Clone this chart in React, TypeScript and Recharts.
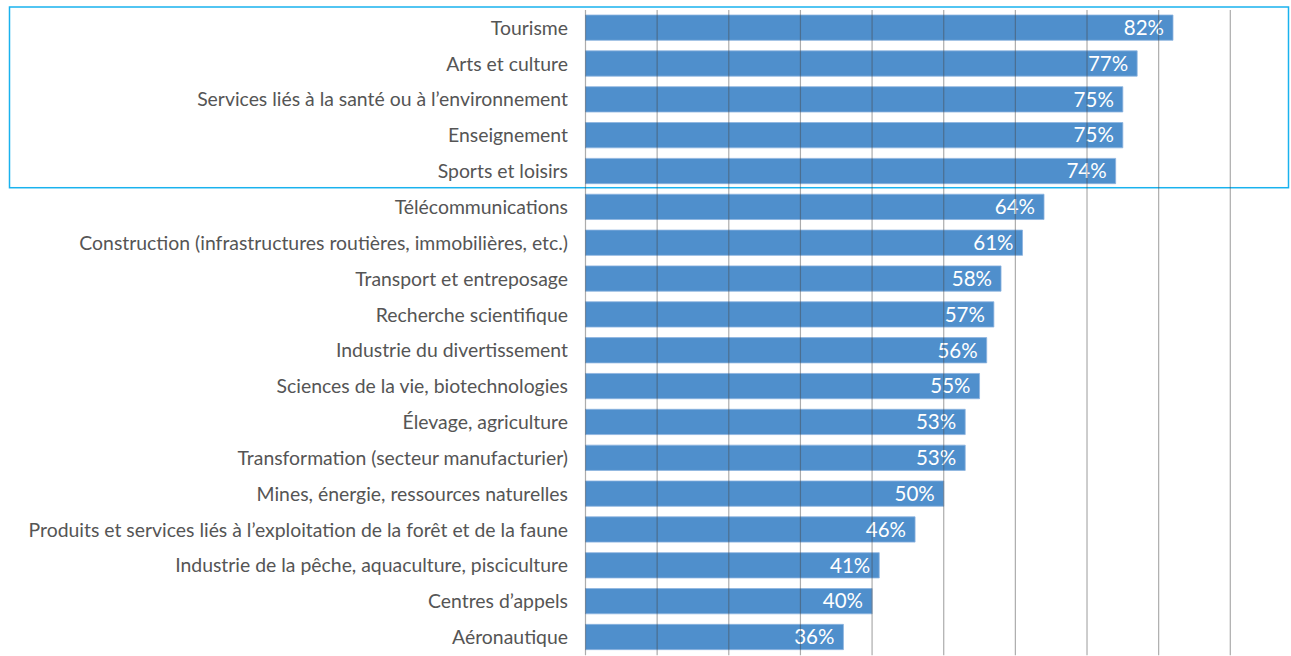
import React from 'react';
import { BarChart, Bar, XAxis, YAxis, CartesianGrid, LabelList, ReferenceArea } from 'recharts';

const categories = [
  'Tourisme',
  'Arts et culture',
  'Services liés à la santé ou à l’environnement',
  'Enseignement',
  'Sports et loisirs',
  'Télécommunications',
  'Construction (infrastructures routières, immobilières, etc.)',
  'Transport et entreposage',
  'Recherche scientifique',
  'Industrie du divertissement',
  'Sciences de la vie, biotechnologies',
  'Élevage, agriculture',
  'Transformation (secteur manufacturier)',
  'Mines, énergie, ressources naturelles',
  'Produits et services liés à l’exploitation de la forêt et de la faune',
  'Industrie de la pêche, aquaculture, pisciculture',
  'Centres d’appels',
  'Aéronautique',
];

const values = [82, 77, 75, 75, 74, 64, 61, 58, 57, 56, 55, 53, 53, 50, 46, 41, 40, 36];

const xTicks = [0, 10, 20, 30, 40, 50, 60, 70, 80, 90];

const highlightFrom = 'Tourisme';
const highlightTo = 'Sports et loisirs';

const data = categories.map((name, i) => ({ name, value: values[i] }));

const FONT = 'Lato, "Open Sans", sans-serif';
const MARGIN = { top: 10, right: 60.7, bottom: 0.8, left: 0 };
const AXIS_W = 585.5;

const HighlightBox = (props: any) => {
  const { y, height } = props;
  return (
    <rect
      x={9.5}
      y={y - 3}
      width={1279}
      height={height + 1.5}
      fill="none"
      stroke="#1ab2ee"
      strokeWidth={1.5}
    />
  );
};

export default function App() {
  return (
    <div style={{ position: 'absolute', left: 0, top: 0, width: 1291, height: 656, background: '#fff' }}>
      <div style={{ position: 'absolute', left: 0, top: 0 }}>
        <BarChart width={1291} height={656} data={data} layout="vertical" margin={MARGIN} barSize={25.3}>
          <XAxis type="number" domain={[0, 90]} ticks={xTicks} hide />
          <YAxis
            type="category"
            dataKey="name"
            width={AXIS_W}
            axisLine={false}
            tickLine={false}
            tickSize={0}
            tickMargin={17.5}
            interval={0}
            tick={{ fill: '#555555', fontSize: 19.4, fontFamily: FONT }}
          />
          <Bar dataKey="value" fill="#4f8fcc" stroke="#8db4df" strokeWidth={0.8} isAnimationActive={false}>
            <LabelList
              dataKey="value"
              position="insideRight"
              offset={9}
              formatter={(v: any) => `${v}%`}
              style={{ fill: '#ffffff', fontSize: 20.5, fontFamily: FONT }}
            />
          </Bar>
          <ReferenceArea y1={highlightFrom} y2={highlightTo} ifOverflow="visible" shape={HighlightBox} />
        </BarChart>
      </div>
      <div style={{ position: 'absolute', left: 0, top: 0, pointerEvents: 'none' }}>
        <BarChart width={1291} height={656} data={data} layout="vertical" margin={MARGIN} barSize={25.3}>
          <XAxis type="number" domain={[0, 90]} ticks={xTicks} hide />
          <YAxis type="category" dataKey="name" width={AXIS_W} axisLine={false} tickLine={false} tick={false} />
          <CartesianGrid horizontal={false} vertical={true} stroke="rgba(70,70,70,0.45)" strokeWidth={1.2} />
          <Bar dataKey="value" fill="none" stroke="none" isAnimationActive={false} />
        </BarChart>
      </div>
    </div>
  );
}
